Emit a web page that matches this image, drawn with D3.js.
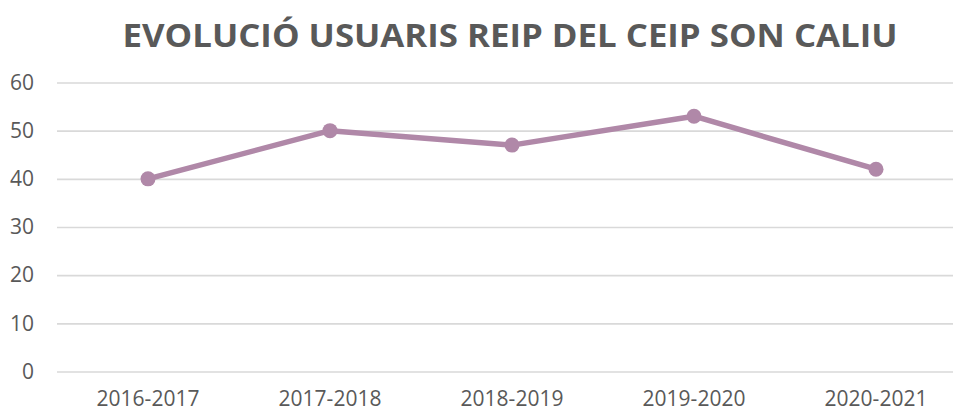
<!DOCTYPE html>
<html lang="ca">
<head>
<meta charset="utf-8">
<title>Evolució usuaris REIP</title>
<script src="https://cdn.jsdelivr.net/npm/d3@7"></script>
<style>
  body { margin: 0; background: #fff; }
  svg { display: block; font-family: "Open Sans", "DejaVu Sans", sans-serif; }
</style>
</head>
<body>
<svg id="chart" width="953" height="412"></svg>
<script>
/** chart data */
var titleText = "EVOLUCIÓ USUARIS REIP DEL CEIP SON CALIU";
var courses = ["2016-2017", "2017-2018", "2018-2019", "2019-2020", "2020-2021"];
var users = [40, 50, 47, 53, 42];
var yTicks = [0, 10, 20, 30, 40, 50, 60];

var svg = d3.select("#chart"),
    plotLeft = 57,
    plotRight = 967,
    plotTop = 82.5,
    plotBottom = 371.5,
    lineColor = "#b088a8",
    textColor = "#595959";

var x = d3.scaleBand().domain(courses).range([plotLeft, plotRight]),
    y = d3.scaleLinear().domain([0, 60]).range([plotBottom, plotTop]);

/** title */
svg.append("text")
   .attr("x", 510)
   .attr("y", 47)
   .attr("text-anchor", "middle")
   .attr("font-size", 32)
   .attr("font-weight", "bold")
   .attr("fill", textColor)
   .attr("textLength", 775)
   .attr("lengthAdjust", "spacingAndGlyphs")
   .text(titleText);

/** gridlines and y labels */
var yAxis = svg.append("g")
   .attr("transform", "translate(" + plotLeft + ",0)")
   .call(d3.axisLeft(y).tickValues(yTicks).tickSize(-(plotRight - plotLeft)).tickPadding(23));
yAxis.select(".domain").remove();
yAxis.selectAll(".tick line").attr("stroke", "#d9d9d9").attr("stroke-width", 1.6);
yAxis.selectAll(".tick text")
   .attr("fill", textColor)
   .attr("font-size", 21)
   .attr("font-family", "'Open Sans', sans-serif");

/** x labels */
var xAxis = svg.append("g")
   .attr("transform", "translate(0," + plotBottom + ")")
   .call(d3.axisBottom(x).tickSize(0).tickPadding(20));
xAxis.select(".domain").remove();
xAxis.selectAll(".tick text")
   .attr("fill", textColor)
   .attr("font-size", 21)
   .attr("font-family", "'Open Sans', sans-serif");

/** the line and its markers */
var cx = function(d, i) { return x(courses[i]) + x.bandwidth() / 2; };
var line = d3.line().x(cx).y(function(d) { return y(d); });

svg.append("path")
   .datum(users)
   .attr("d", line)
   .attr("fill", "none")
   .attr("stroke", lineColor)
   .attr("stroke-width", 5.5)
   .attr("stroke-linejoin", "round");

svg.selectAll(".dot")
   .data(users)
   .enter().append("circle")
   .attr("class", "dot")
   .attr("cx", cx)
   .attr("cy", function(d) { return y(d); })
   .attr("r", 7.5)
   .attr("fill", lineColor);
</script>
</body>
</html>
